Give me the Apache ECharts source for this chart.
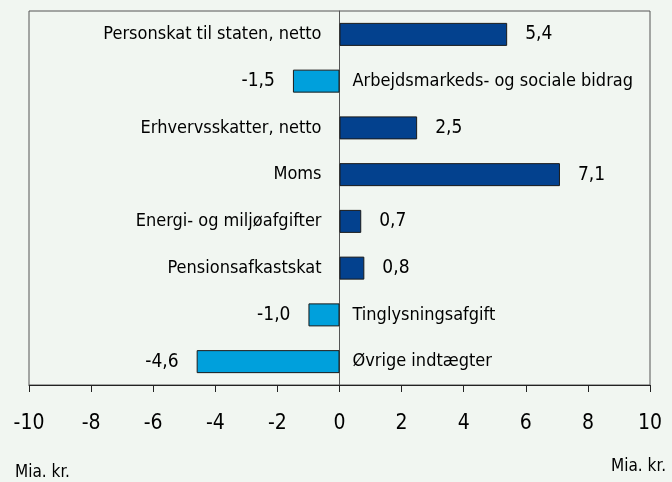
<!DOCTYPE html>
<html>
<head>
<meta charset="utf-8">
<script src="https://cdn.jsdelivr.net/npm/echarts@6/dist/echarts.min.js"></script>
<style>
  html, body { margin: 0; padding: 0; background: #f1f6f1; }
  #main { width: 672px; height: 482px; }
</style>
</head>
<body>
<div id="main"></div>
<script>
const categories = [
  'Personskat til staten, netto',
  'Arbejdsmarkeds- og sociale bidrag',
  'Erhvervsskatter, netto',
  'Moms',
  'Energi- og miljøafgifter',
  'Pensionsafkastskat',
  'Tinglysningsafgift',
  'Øvrige indtægter'
];
const values = [5.4, -1.5, 2.5, 7.1, 0.7, 0.8, -1.0, -4.6];
const tickLabels = ['-10', '-8', '-6', '-4', '-2', '0', '2', '4', '6', '8', '10'];

const FONT = "'DejaVu Sans Condensed', 'Liberation Sans Narrow', sans-serif";
const DARK = '#03418e';
const LIGHT = '#00a0dc';

const chart = echarts.init(document.getElementById('main'));

const fmt = v => v.toFixed(1).replace('.', ',');

const barData = values.map(v => ({
  value: v,
  itemStyle: { color: v >= 0 ? DARK : LIGHT },
  label: { position: v >= 0 ? 'right' : 'left' }
}));

// anchors at zero carrying the category names on the opposite side of each bar
const nameData = values.map((v, i) => ({
  value: [0, i],
  label: {
    position: v >= 0 ? 'left' : 'right',
    distance: v >= 0 ? 18 : 13
  }
}));

chart.setOption({
  backgroundColor: '#f1f6f1',
  animation: false,
  grid: {
    left: 29, right: 22, top: 11, bottom: 97,
    show: true,
    borderColor: '#555',
    borderWidth: 1,
    backgroundColor: 'transparent'
  },
  xAxis: {
    type: 'value',
    min: -10, max: 10, interval: 2,
    axisLine: { show: true, onZero: false, lineStyle: { color: '#222', width: 1 } },
    axisTick: { show: true, length: 7, lineStyle: { color: '#222' } },
    splitLine: { show: false },
    axisLabel: {
      margin: 28,
      color: '#000',
      fontFamily: FONT,
      fontSize: 21,
      formatter: v => tickLabels[Math.round((v + 10) / 2)]
    }
  },
  yAxis: {
    type: 'category',
    inverse: true,
    data: categories,
    axisLine: { show: true, onZero: true, lineStyle: { color: '#555', width: 1 } },
    axisTick: { show: false },
    axisLabel: { show: false },
    splitLine: { show: false }
  },
  graphic: [
    { type: 'text', left: 15, top: 464, style: { text: 'Mia. kr.', font: '17px ' + FONT, fill: '#000' } },
    { type: 'text', right: 6, top: 458, style: { text: 'Mia. kr.', font: '17px ' + FONT, fill: '#000' } }
  ],
  series: [
    {
      type: 'bar',
      data: barData,
      barWidth: 23,
      itemStyle: { borderColor: '#1a1a1a', borderWidth: 1 },
      label: {
        show: true,
        distance: 18,
        color: '#000',
        fontFamily: FONT,
        fontSize: 19,
        formatter: p => fmt(p.value)
      }
    },
    {
      type: 'scatter',
      data: nameData,
      symbolSize: 0,
      silent: true,
      itemStyle: { opacity: 1 },
      label: {
        show: true,
        opacity: 1,
        color: '#000',
        fontFamily: FONT,
        fontSize: 18,
        formatter: p => categories[p.value[1]]
      }
    }
  ]
});
</script>
</body>
</html>
